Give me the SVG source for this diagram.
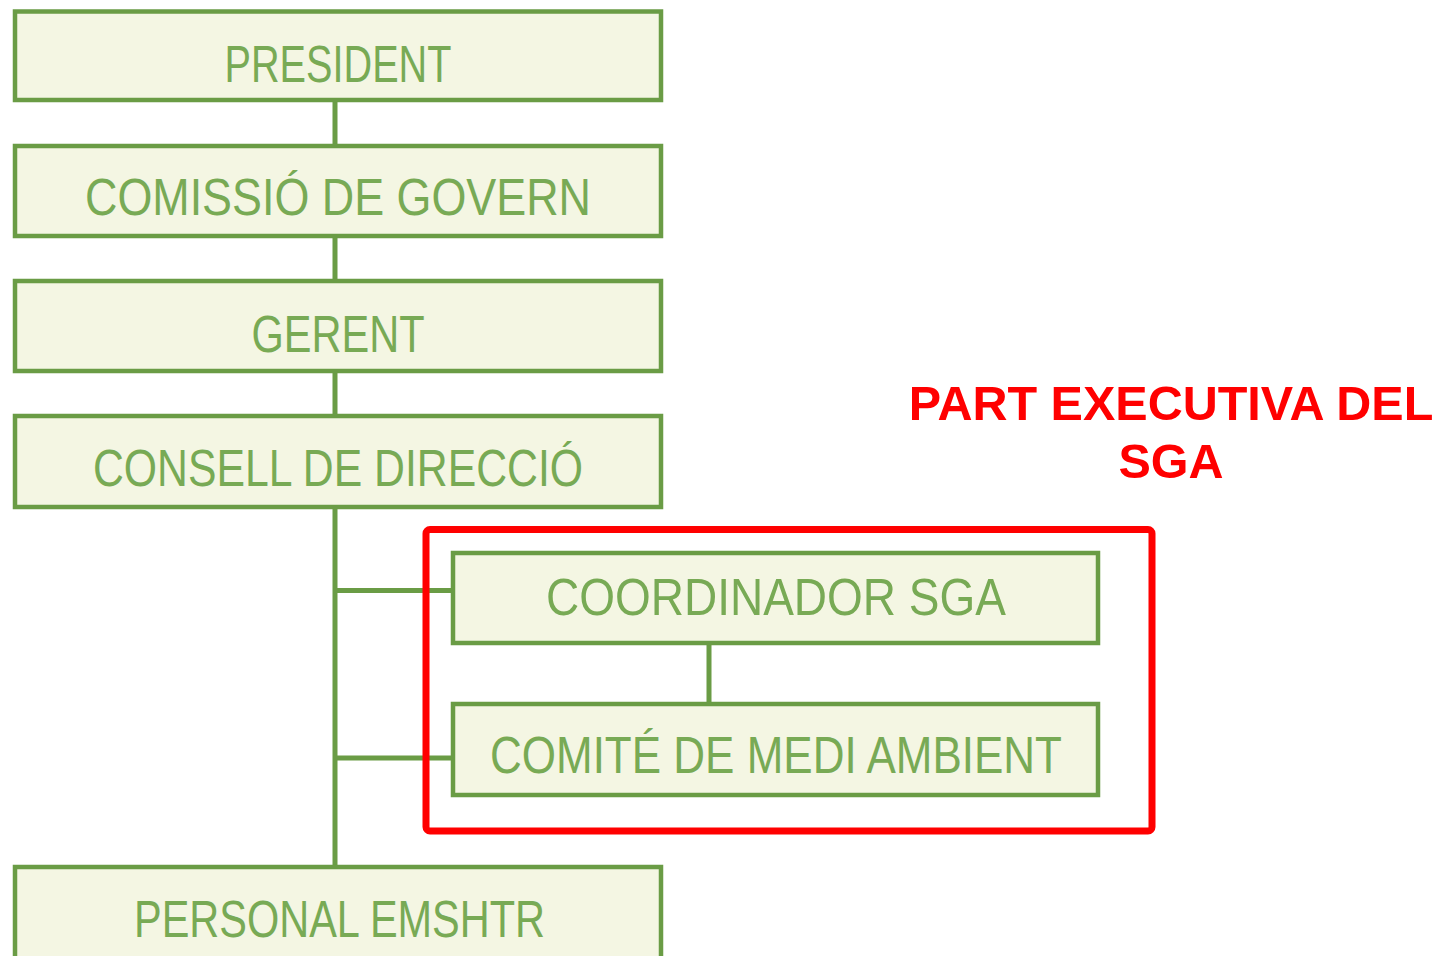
<svg xmlns="http://www.w3.org/2000/svg" width="1443" height="956" viewBox="0 0 1443 956">
<style>
.box{fill:#f4f6e3;stroke:#6a9c45;stroke-width:4.5}
.lbl{font-family:"Liberation Sans",Arial,sans-serif;font-size:51px;fill:#78aa55;text-anchor:middle}
.con{stroke:#6a9c45;stroke-width:5;fill:none}
.red{font-family:"Liberation Sans",Arial,sans-serif;font-weight:bold;font-size:48.5px;fill:#ff0000;text-anchor:middle}
</style>
<rect width="1443" height="956" fill="#ffffff"/>
<g id="connectors">
<path class="con" d="M335 100V146M335 236V281M335 371V416M335 507V867M335 590.5H453M335 758H453M709 643V704"/>
</g>
<g id="president"><rect class="box" x="15" y="11.5" width="646" height="88.5"/><text class="lbl" x="338" y="82" textLength="227" lengthAdjust="spacingAndGlyphs">PRESIDENT</text></g>
<g id="comissio"><rect class="box" x="15" y="146" width="646" height="90"/><text class="lbl" x="338" y="215" textLength="506" lengthAdjust="spacingAndGlyphs">COMISSIÓ DE GOVERN</text></g>
<g id="gerent"><rect class="box" x="15" y="281" width="646" height="90"/><text class="lbl" x="338" y="352" textLength="173" lengthAdjust="spacingAndGlyphs">GERENT</text></g>
<g id="consell"><rect class="box" x="15" y="416" width="646" height="91"/><text class="lbl" x="338" y="486" textLength="490" lengthAdjust="spacingAndGlyphs">CONSELL DE DIRECCIÓ</text></g>
<g id="coordinador"><rect class="box" x="453" y="553" width="645" height="90"/><text class="lbl" x="776" y="615" textLength="460" lengthAdjust="spacingAndGlyphs">COORDINADOR SGA</text></g>
<g id="comite"><rect class="box" x="453" y="704" width="645" height="91"/><text class="lbl" x="776" y="773" textLength="572" lengthAdjust="spacingAndGlyphs">COMITÉ DE MEDI AMBIENT</text></g>
<g id="personal"><rect class="box" x="15" y="867" width="646" height="96"/><text class="lbl" x="339.5" y="937" textLength="411" lengthAdjust="spacingAndGlyphs">PERSONAL EMSHTR</text></g>
<g id="part-executiva">
<rect x="426" y="529.5" width="726" height="301.5" rx="4" fill="none" stroke="#ff0000" stroke-width="7"/>
<text class="red" x="1171" y="420">PART EXECUTIVA DEL</text>
<text class="red" x="1171" y="478">SGA</text>
</g>
</svg>
